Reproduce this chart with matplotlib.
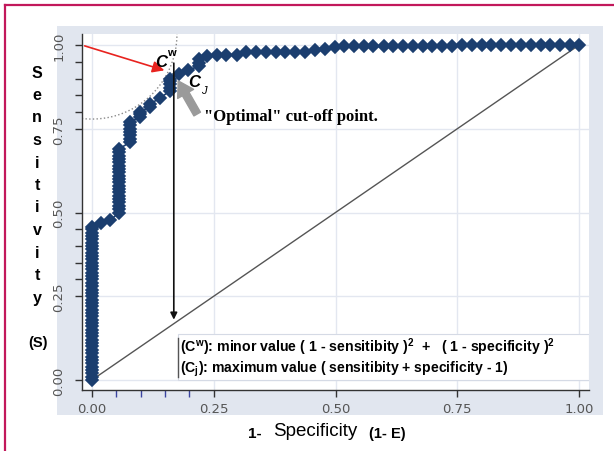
import matplotlib
matplotlib.use('Agg')
import numpy as np
import matplotlib.pyplot as plt
from matplotlib import font_manager
from matplotlib.patches import Rectangle
from matplotlib.lines import Line2D

# ROC curve points (1 - specificity, sensitivity);
# the vertical runs are many tied points stacked on top of each other
roc_x = [0.000] * 47 + [0.018, 0.038] + [0.056] * 20 + [0.078] * 7 + \
        [0.099] * 3 + [0.119] * 2 + [0.140] + [0.160] * 5 + [0.179, 0.197] + \
        [0.220] * 3 + \
        [0.236, 0.256, 0.276, 0.297, 0.317, 0.337, 0.357, 0.377, 0.397, 0.417,
         0.437, 0.458, 0.478, 0.498, 0.518, 0.538, 0.558, 0.578, 0.599, 0.619,
         0.639, 0.659, 0.679, 0.699, 0.719, 0.739, 0.760, 0.780, 0.800, 0.820,
         0.840, 0.860, 0.880, 0.901, 0.921, 0.941, 0.961, 0.981, 1.000]
roc_y = [0.000, 0.010, 0.020, 0.030, 0.040, 0.050, 0.060, 0.070, 0.080, 0.090,
         0.100, 0.110, 0.120, 0.130, 0.140, 0.150, 0.160, 0.170, 0.180, 0.190,
         0.200, 0.210, 0.220, 0.230, 0.240, 0.250, 0.260, 0.270, 0.280, 0.290,
         0.300, 0.310, 0.320, 0.330, 0.340, 0.350, 0.360, 0.370, 0.380, 0.390,
         0.400, 0.410, 0.420, 0.430, 0.440, 0.450, 0.457,
         0.468, 0.478,
         0.500, 0.510, 0.520, 0.530, 0.540, 0.550, 0.560, 0.570, 0.580, 0.590,
         0.600, 0.610, 0.620, 0.630, 0.640, 0.650, 0.660, 0.670, 0.680, 0.690,
         0.710, 0.720, 0.730, 0.740, 0.750, 0.760, 0.770,
         0.785, 0.793, 0.800,
         0.815, 0.824,
         0.842,
         0.863, 0.873, 0.883, 0.893, 0.900,
         0.915, 0.925,
         0.937, 0.947, 0.958,
         0.968, 0.971, 0.971, 0.971, 0.978, 0.978, 0.978, 0.978, 0.978, 0.978,
         0.978, 0.985, 0.988, 0.993, 0.996, 0.996, 0.996, 0.996, 0.996, 0.996,
         0.996, 0.996, 0.996, 0.996, 0.996, 0.996, 1.000, 1.000, 1.000, 1.000,
         1.000, 1.000, 1.000, 1.000, 1.000, 1.000, 1.000, 1.000, 1.000]

major_ticks = [0.0, 0.25, 0.5, 0.75, 1.0]
tick_labels = ['0.00', '0.25', '0.50', '0.75', '1.00']
x_minor = [0.05, 0.10, 0.15, 0.20]
y_minor = [0.30, 0.35, 0.40, 0.45, 0.80, 0.85, 0.90, 0.95]

box_lines = [r'(C$^{w}$): minor value ( 1 - sensitibity )$^{2}$  +   ( 1 - specificity )$^{2}$',
             r'(C$_{j}$): maximum value ( sensitibity + specificity - 1)']

navy = '#1b3e6f'
tickblue = '#3a44a0'
W, H = 614, 452

names = {f.name for f in font_manager.fontManager.ttflist}
box_font = 'Liberation Sans Narrow' if 'Liberation Sans Narrow' in names else 'Liberation Sans'
plt.rcParams['mathtext.fontset'] = 'custom'
plt.rcParams['mathtext.rm'] = box_font + ':bold'
plt.rcParams['mathtext.it'] = box_font + ':bold'
plt.rcParams['mathtext.bf'] = box_font + ':bold'

fig = plt.figure(figsize=(W / 100, H / 100), dpi=100)

# light plot-region background and red frame
fig.patches.append(Rectangle((57 / W, 1 - 416 / H), 546 / W, 389 / H,
                             transform=fig.transFigure, facecolor='#e1e6ef',
                             edgecolor='none', zorder=-5))
fig.lines.append(Line2D([5 / W, 1], [1 - 6 / H, 1 - 6 / H], transform=fig.transFigure,
                        color='#c2185b', lw=1.6))
fig.lines.append(Line2D([5 / W, 5 / W], [0, 1 - 6 / H], transform=fig.transFigure,
                        color='#c2185b', lw=1.6))

ax = fig.add_axes([82 / W, 1 - 391 / H, 507 / W, 356 / H])
ax.set_zorder(2)
ax.set_xlim(-0.0205, 1.0205)
ax.set_ylim(-0.030, 1.033)
ax.set_facecolor('white')
ax.set_axisbelow(True)
ax.grid(True, which='major', color='#e3e7f0', lw=1)

for s in ['top', 'right']:
    ax.spines[s].set_visible(False)
for s in ['left', 'bottom']:
    ax.spines[s].set_color('#333333')
    ax.spines[s].set_linewidth(1)

ax.set_xticks(major_ticks)
ax.set_xticklabels(tick_labels)
ax.set_xticks(x_minor, minor=True)
ax.set_yticks(major_ticks)
ax.set_yticklabels(tick_labels)
ax.set_yticks(y_minor, minor=True)
ax.tick_params(which='both', direction='out', length=5, width=1, color='#333333',
               labelsize=9.5, labelcolor='#555555')
ax.tick_params(axis='x', which='minor', color=tickblue)
ax.tick_params(axis='x', pad=4)
ax.tick_params(axis='y', labelrotation=90, pad=7)
for lab in ax.get_yticklabels():
    lab.set_va('center')
for t in ax.xaxis.get_major_ticks()[:2]:
    t.tick1line.set_color(tickblue)

# legend-like text box
ax.add_patch(Rectangle((0.177, 0.0), 1.0205 - 0.177, 0.137, facecolor='white',
                       edgecolor='#d5dae5', lw=0.8, zorder=1.5))
ax.plot([0.177, 0.177], [0.008, 0.125], color='#555555', lw=1, zorder=1.6)

ax.plot([0, 1], [0, 1], color='#555555', lw=1, zorder=2)
ax.plot(roc_x, roc_y, color=navy, lw=1.2, marker='D', ms=6, mfc=navy, mec=navy,
        mew=1.2, zorder=3, clip_on=False)

# dotted arc around the top-left corner
t = np.linspace(-0.12, np.pi / 2, 200)
ax.plot(0.1745 * np.sin(t), 1.033 - 0.254 * np.cos(t), ls=':', color='#8a8a8a', lw=1,
        zorder=2.5)

ax.annotate('', xy=(0.154, 0.922), xytext=(-0.0205, 1.0),
            arrowprops=dict(arrowstyle='-|>,head_length=0.5,head_width=0.25',
                            color='#e8231f', lw=1.2, mutation_scale=14),
            zorder=4, annotation_clip=False)
ax.annotate('', xy=(0.168, 0.180), xytext=(0.168, 0.946),
            arrowprops=dict(arrowstyle='-|>', color='#111111', lw=1.2, mutation_scale=10,
                            shrinkA=0, shrinkB=0), zorder=4)
ax.annotate('', xy=(0.177, 0.893), xytext=(0.216, 0.794),
            arrowprops=dict(arrowstyle='simple,head_width=1.1,head_length=0.9,tail_width=0.45',
                            color='#9a9a9a', mutation_scale=12, shrinkA=0, shrinkB=0),
            zorder=4)

ax.text(0.142, 0.952, 'C', fontsize=12, fontweight='bold', style='italic',
        family='Liberation Sans', ha='center', va='center', zorder=5)
ax.text(0.162, 0.978, 'w', fontsize=8, fontweight='bold', family='Liberation Sans',
        ha='center', va='center', zorder=5)
ax.text(0.209, 0.890, 'C', fontsize=12, fontweight='bold', style='italic',
        family='Liberation Sans', ha='center', va='center', zorder=5)
ax.text(0.229, 0.866, 'J', fontsize=8, style='italic', family='Liberation Sans',
        ha='center', va='center', zorder=5)
ax.text(0.230, 0.788, '"Optimal" cut-off point.', fontsize=12, fontweight='bold',
        family='Liberation Serif', ha='left', va='center', zorder=5)

# box text, size fitted to the width seen in the picture
renderer = fig.canvas.get_renderer()
box_y = [0.101, 0.036]
box_w = [374, 328]
for txt, yy, target in zip(box_lines, box_y, box_w):
    tx = ax.text(0.181, yy, txt, fontsize=10, fontweight='bold', family=box_font,
                 ha='left', va='center', zorder=5)
    w = tx.get_window_extent(renderer).width
    tx.set_fontsize(10 * target / w)

# stacked y label
for i, ch in enumerate('Sensitivity'):
    fig.text(37 / W, 1 - (73 + 22.5 * i) / H, ch, fontsize=11.5, fontweight='bold',
             family='Liberation Sans', ha='center', va='center')
fig.text(38 / W, 1 - 343 / H, '(S)', fontsize=10.5, fontweight='bold',
         family='Liberation Sans', ha='center', va='center')

# x label in three pieces
fig.text(248 / W, 1 - 434 / H, '1-', fontsize=11, fontweight='bold',
         family='Liberation Sans', ha='left', va='center')
fig.text(273 / W, 1 - 432 / H, 'Specificity', fontsize=13.5,
         family='Liberation Sans', ha='left', va='center')
fig.text(369 / W, 1 - 434 / H, '(1- E)', fontsize=10.5, fontweight='bold',
         family='Liberation Sans', ha='left', va='center')

fig.savefig('out.png', dpi=100)
